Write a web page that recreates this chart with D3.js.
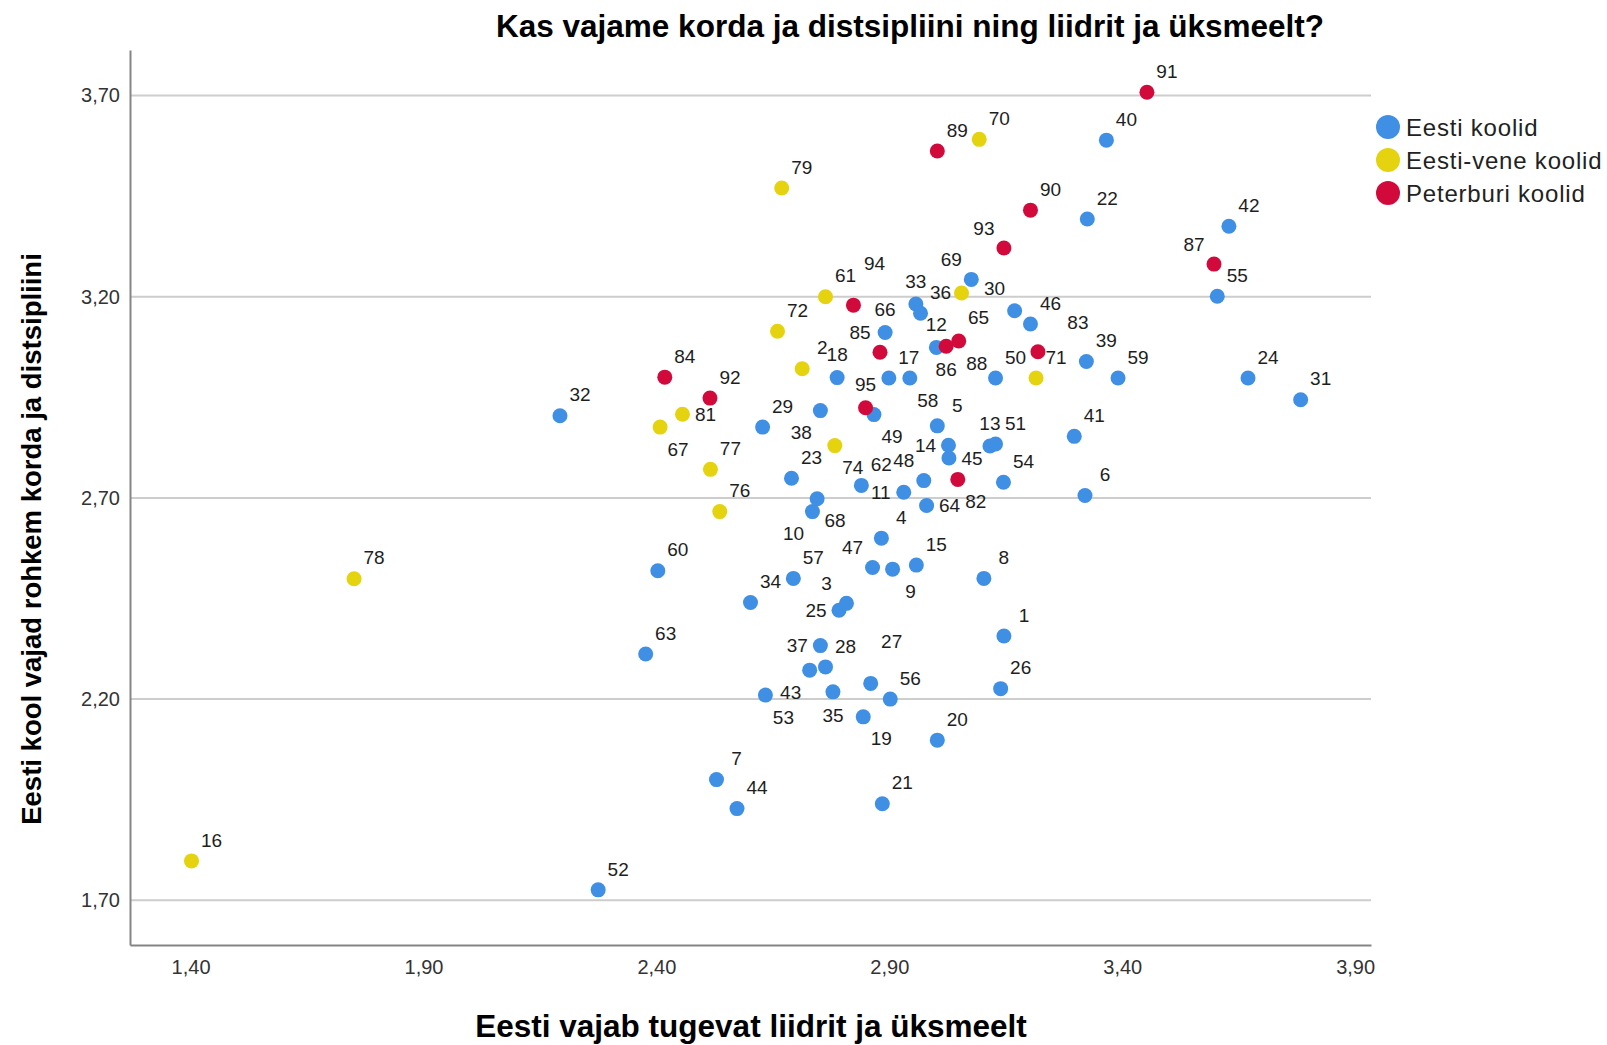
<!DOCTYPE html>
<html>
<head>
<meta charset="utf-8">
<script src="https://cdn.jsdelivr.net/npm/d3@7"></script>
<style>
  body { margin: 0; background: #fff; }
  text { font-family: "Liberation Sans", Arial, sans-serif; }
</style>
</head>
<body>
<svg id="chart" width="1607" height="1045"></svg>
<script>
// Eesti koolid
var eestiId = [1, 3, 4, 5, 6, 7, 8, 9, 10, 11, 12, 13, 14, 15, 17, 18, 19, 20, 21, 22, 23, 24, 25, 26, 27, 28, 29, 31, 32, 33,
    34, 35, 36, 37, 38, 39, 40, 41, 42, 43, 44, 45, 46, 47, 48, 49, 50, 51, 52, 53, 54, 55, 56, 57, 58, 59, 60, 62, 63, 64,
    65, 66, 68, 69];
var eestiX = [3.146, 2.808, 2.883, 3.003, 3.320, 2.529, 3.103, 2.907, 2.735, 2.931, 3.001, 3.116, 3.027, 2.958, 2.899, 2.788, 2.844, 3.003, 2.885, 3.325,
    2.690, 3.670, 2.792, 3.139, 2.860, 2.763, 2.628, 3.783, 2.193, 2.957, 2.602, 2.779, 2.967, 2.752, 2.752, 3.323, 3.366, 3.297, 3.629, 2.729,
    2.573, 3.028, 3.203, 2.864, 2.974, 2.867, 3.128, 3.128, 2.275, 2.634, 3.145, 3.604, 2.902, 2.694, 2.944, 3.391, 2.403, 2.840, 2.377, 2.980,
    3.169, 2.891, 2.745, 3.076];
var eestiY = [2.357, 2.438, 2.600, 2.879, 2.706, 2.000, 2.500, 2.523, 2.666, 2.714, 3.074, 2.829, 2.831, 2.533, 2.998, 2.999, 2.156, 2.098, 1.940, 3.393,
    2.749, 2.998, 2.421, 2.226, 2.239, 2.280, 2.876, 2.944, 2.904, 3.182, 2.440, 2.218, 3.159, 2.333, 2.917, 3.039, 3.589, 2.853, 3.375, 2.272,
    1.928, 2.799, 3.132, 2.527, 2.743, 2.907, 2.998, 2.834, 1.726, 2.210, 2.739, 3.201, 2.200, 2.500, 2.998, 2.998, 2.519, 2.731, 2.312, 2.681,
    3.165, 3.111, 2.698, 3.243];

// Eesti-vene koolid
var veneId = [2, 16, 30, 61, 67, 70, 71, 72, 74, 76, 77, 78, 79, 81];
var veneX = [2.713, 1.402, 3.055, 2.763, 2.408, 3.093, 3.215, 2.660, 2.783, 2.536, 2.516, 1.751, 2.669, 2.456];
var veneY = [3.021, 1.798, 3.209, 3.200, 2.876, 3.591, 2.998, 3.114, 2.830, 2.666, 2.771, 2.499, 3.470, 2.908];

// Peterburi koolid
var peterId = [82, 83, 84, 85, 86, 87, 88, 89, 90, 91, 92, 93, 94, 95];
var peterX = [3.047, 3.219, 2.418, 2.880, 3.022, 3.597, 3.049, 3.003, 3.203, 3.453, 2.515, 3.146, 2.823, 2.849];
var peterY = [2.746, 3.063, 3.000, 3.062, 3.077, 3.281, 3.090, 3.562, 3.415, 3.708, 2.948, 3.321, 3.179, 2.924];

var groupNames = ["Eesti koolid", "Eesti-vene koolid", "Peterburi koolid"];
var xTicks = [1.40, 1.90, 2.40, 2.90, 3.40, 3.90];
var yTicks = [1.70, 2.20, 2.70, 3.20, 3.70];

var colors = ["#3f8fe4", "#e4d30e", "#d20a3c"];

function toPoints(ids, xs, ys, g) {
    return ids.map(function (id, i) { return {id: id, x: xs[i], y: ys[i], g: g}; });
}
var points = toPoints(eestiId, eestiX, eestiY, 0)
    .concat(toPoints(veneId, veneX, veneY, 1))
    .concat(toPoints(peterId, peterX, peterY, 2));

var svg = d3.select("#chart");
var plotLeft = 130, plotRight = 1371, plotTop = 50, plotBottom = 945;

var xScale = d3.scaleLinear().domain([1.27, 3.934]).range([plotLeft, plotRight]);
var yScale = d3.scaleLinear().domain([1.589, 3.813]).range([plotBottom, plotTop]);

var locale = d3.formatLocale({decimal: ",", thousands: ".", grouping: [3], currency: ["", ""]});
var fmt = locale.format(".2f");

// gridlines
svg.append("g").selectAll("line").data(yTicks).join("line")
    .attr("x1", plotLeft).attr("x2", plotRight)
    .attr("y1", function (d) { return yScale(d); })
    .attr("y2", function (d) { return yScale(d); })
    .attr("stroke", "#cdcdcd")
    .attr("stroke-width", 2);

var xAxis = d3.axisBottom(xScale).tickValues(xTicks).tickFormat(fmt).tickSize(0).tickPadding(15);
var yAxis = d3.axisLeft(yScale).tickValues(yTicks).tickFormat(fmt).tickSize(0).tickPadding(10);

var gx = svg.append("g").attr("transform", "translate(0," + plotBottom + ")").call(xAxis);
var gy = svg.append("g").attr("transform", "translate(" + plotLeft + ",0)").call(yAxis);
[gx, gy].forEach(function (g) {
    g.select(".domain").attr("stroke", "#858585").attr("stroke-width", 2);
    g.selectAll("text").attr("font-size", 20).attr("fill", "#333")
        .style("font-family", "'Liberation Sans', Arial, sans-serif");
});

// points, blue first then yellow then red
svg.append("g").selectAll("circle").data(points).join("circle")
    .attr("cx", function (d) { return xScale(d.x); })
    .attr("cy", function (d) { return yScale(d.y); })
    .attr("r", 7.5)
    .attr("fill", function (d) { return colors[d.g]; });

// label placement around the point (default upper right)
var labelPos = {
    93: "nw", 87: "nw", 69: "nw", 30: "ee", 33: "n", 65: "ww", 66: "n", 12: "n", 86: "s", 88: "se",
    85: "nw", 18: "n", 58: "se", 81: "e", 67: "se", 95: "n", 49: "se", 38: "sw", 13: "n", 14: "w",
    45: "e", 74: "se", 48: "nw", 11: "w", 64: "e", 82: "se", 68: "se", 10: "sw", 47: "nw", 9: "se",
    3: "nw", 25: "w", 37: "w", 43: "sw", 53: "se", 35: "s", 19: "se", 94: "nn", 27: "nn", 83: "nf"
};
var offsets = {
    ne: [20, -21], n: [0, -23], nw: [-20, -20], e: [23, 0], w: [-23, 0],
    se: [18, 22], s: [0, 23], sw: [-19, 22],
    ee: [33, -5], ww: [-36, 7], nn: [21, -42], nf: [40, -29]
};

svg.append("g").selectAll("text").data(points).join("text")
    .attr("x", function (d) { return xScale(d.x) + offsets[labelPos[d.id] || "ne"][0]; })
    .attr("y", function (d) { return yScale(d.y) + offsets[labelPos[d.id] || "ne"][1]; })
    .attr("dy", "0.35em")
    .attr("text-anchor", "middle")
    .attr("font-size", 19)
    .attr("fill", "#1e1e1e")
    .text(function (d) { return d.id; });

// legend
var legend = svg.append("g").selectAll("g").data(groupNames).join("g")
    .attr("transform", function (d, i) { return "translate(1388," + (127 + i * 33) + ")"; });
legend.append("circle").attr("r", 12).attr("fill", function (d, i) { return colors[i]; });
legend.append("text")
    .attr("x", 18).attr("dy", "0.36em")
    .attr("font-size", 24)
    .attr("letter-spacing", 0.8)
    .attr("fill", "#222")
    .text(function (d) { return d; });

// titles
svg.append("text")
    .attr("x", 910).attr("y", 37)
    .attr("text-anchor", "middle")
    .attr("font-size", 31.5).attr("font-weight", "bold")
    .text("Kas vajame korda ja distsipliini ning liidrit ja üksmeelt?");

svg.append("text")
    .attr("x", 751).attr("y", 1037)
    .attr("text-anchor", "middle")
    .attr("font-size", 31.5).attr("font-weight", "bold")
    .text("Eesti vajab tugevat liidrit ja üksmeelt");

svg.append("text")
    .attr("transform", "translate(41,539) rotate(-90)")
    .attr("text-anchor", "middle")
    .attr("font-size", 27.5).attr("font-weight", "bold")
    .text("Eesti kool vajad rohkem korda ja distsipliini");
</script>
</body>
</html>
